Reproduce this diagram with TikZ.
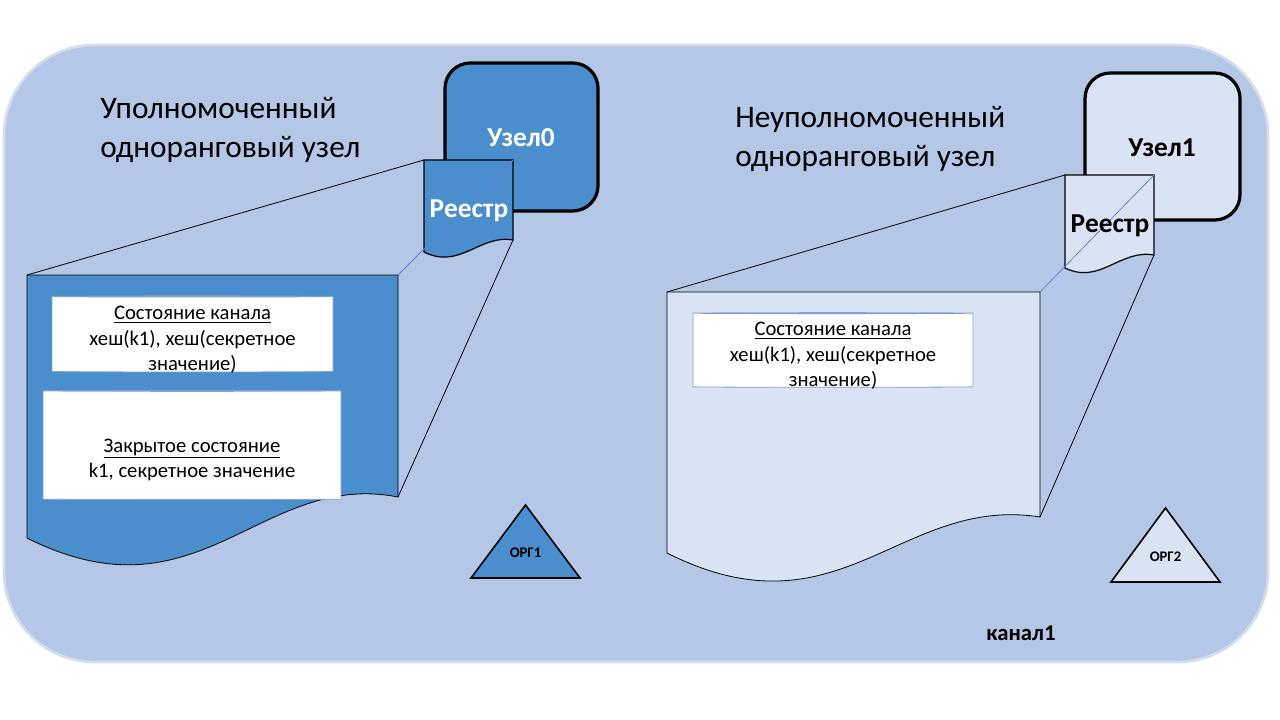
\documentclass[tikz,border=0pt]{standalone}
\usepackage{fontspec}
\setmainfont{Carlito}
\usetikzlibrary{shapes.geometric}
\definecolor{bg}{HTML}{B4C7E7}
\definecolor{bgb}{HTML}{D2DDF0}
\definecolor{dk}{HTML}{4A8ECD}
\definecolor{lt}{HTML}{DAE3F3}
\definecolor{cylb}{HTML}{7F9FD0}
\tikzset{
 nodebox/.style={draw=black,line width=2.4pt,rounded corners=19pt},
 docline/.style={draw=black,line width=0.9pt},
 thin/.style={draw=black,line width=0.6pt},
 diag/.style={draw=cylb!80!blue,line width=0.6pt},
 cyl/.style={cylinder,shape border rotate=90,aspect=0.12,draw=cylb,fill=white,line width=0.6pt},
 cyltext/.style={align=center,font=\fontsize{15.5}{19}\selectfont,inner sep=0pt},
 title/.style={anchor=north west,align=left,font=\fontsize{23.5}{29}\selectfont,inner sep=0pt},
 big/.style={font=\bfseries\fontsize{20.5}{24}\selectfont},
 trilab/.style={font=\bfseries\fontsize{11}{13}\selectfont},
 tri/.style={draw=black,line width=1.2pt}
}
\begin{document}
\begin{tikzpicture}[x=0.75pt,y=-0.75pt]
\useasboundingbox (0,0) rectangle (1280,720);
\fill[white] (0,0) rectangle (1280,720);
\draw[fill=bg,draw=bgb,line width=2pt,rounded corners=68pt] (4,45) rectangle (1268,662);
% titles
\node[title] (t0) at (100,97) {Уполномоченный\\одноранговый узел};
\node[title] (t1) at (735,106) {Неуполномоченный\\одноранговый узел};
% nodes
\draw[nodebox,fill=dk] (445,63) rectangle (598,211);
\node[big,text=white] (u0) at (521,138) {Узел0};
\draw[nodebox,fill=lt] (1085,73) rectangle (1240,220);
\node[big] (u1) at (1162,148) {Узел1};
% left big doc
\coordinate (L1) at (27,275); \coordinate (L2) at (398,275); \coordinate (L3) at (398,497); \coordinate (L4) at (27,538);
\draw[thin,fill=dk] (L1) -- (L2) -- (L3) .. controls (260,470) and (200,625) .. (L4) -- cycle;
% left small doc
\coordinate (s1) at (424,160); \coordinate (s2) at (513,160); \coordinate (s3) at (513,240); \coordinate (s4) at (424,252);
\draw[docline,fill=dk] (s1) -- (s2) -- (s3) .. controls (480,234) and (460,270) .. (s4) -- cycle;
\draw[diag] (s2) -- (L2);
\node[big,text=white] (r0) at (469,211) {Реестр};
\draw[thin] (s1) -- (L1);
\draw[thin] (s3) -- (L3);
% right big doc
\coordinate (R1) at (667,292); \coordinate (R2) at (1040,292); \coordinate (R3) at (1040,517); \coordinate (R4) at (667,553);
\draw[thin,fill=lt] (R1) -- (R2) -- (R3) .. controls (900,495) and (840,640) .. (R4) -- cycle;
% right small doc
\coordinate (q1) at (1065,175); \coordinate (q2) at (1154,175); \coordinate (q3) at (1154,255); \coordinate (q4) at (1065,268);
\draw[docline,fill=lt] (q1) -- (q2) -- (q3) .. controls (1120,249) and (1100,285) .. (q4) -- cycle;
\draw[diag] (q2) -- (R2);
\node[big] (r1) at (1110,226) {Реестр};
\draw[thin] (q1) -- (R1);
\draw[thin] (q3) -- (R3);
% cylinders
\node[cyl,minimum width=210.75pt,minimum height=57pt] (c1) at (192.5,334.5) {};
\node[cyltext] (c1t) at (192.5,340) {\underline{Состояние канала}\\хеш(k1), хеш(секретное\\значение)};
\node[cyl,minimum width=223.5pt,minimum height=82pt] (c2) at (192,445.5) {};
\node[cyltext] (c2t) at (192,460) {\underline{Закрытое состояние}\\k1, секретное значение};
\node[cyl,minimum width=210pt,minimum height=56pt] (c3) at (833,350.5) {};
\node[cyltext] (c3t) at (833,356) {\underline{Состояние канала}\\хеш(k1), хеш(секретное\\значение)};
% triangles
\draw[tri,fill=dk] (525.5,505) -- (580,578) -- (471,578) -- cycle;
\node[trilab] (o1) at (525.5,553) {ОРГ1};
\draw[tri,fill=lt] (1165.5,508) -- (1220,582) -- (1111,582) -- cycle;
\node[trilab] (o2) at (1165.5,557) {ОРГ2};
\node[font=\bfseries\fontsize{17}{20}\selectfont] (k1) at (1021,633) {канал1};
\end{tikzpicture}
\end{document}
